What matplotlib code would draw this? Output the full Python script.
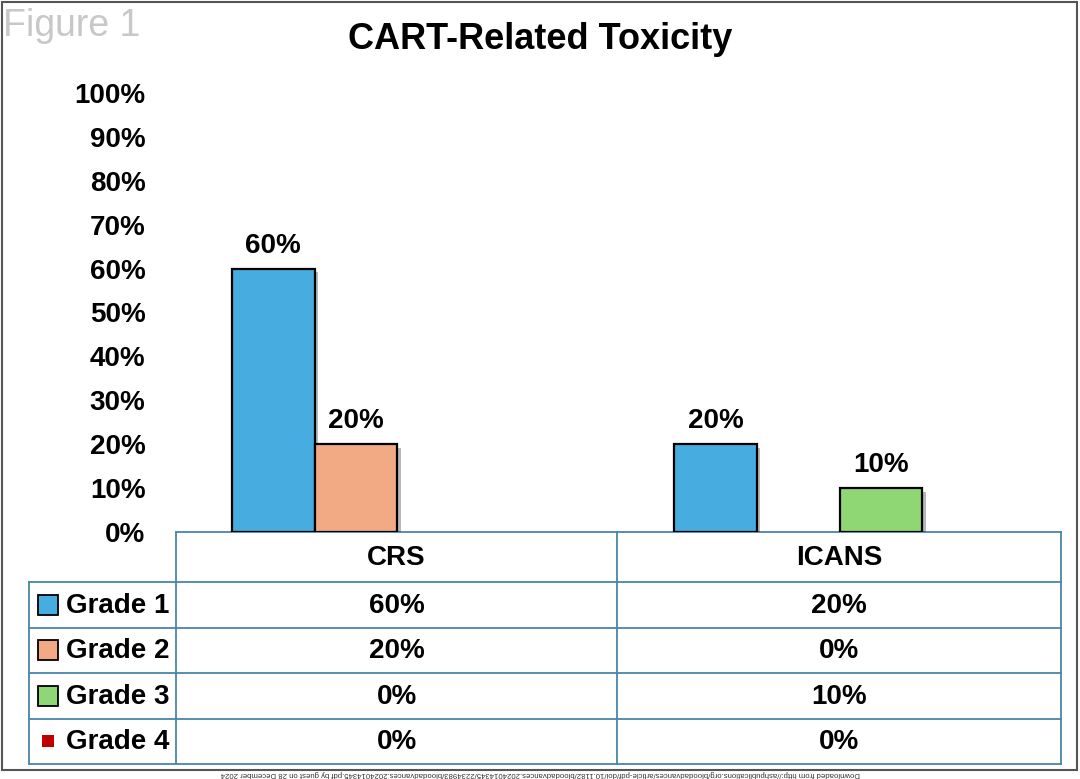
"""CART-related toxicity: grouped bars with a data table underneath."""

import matplotlib

matplotlib.use("Agg")
import matplotlib.patheffects as pe
import matplotlib.pyplot as plt
from matplotlib.patches import Rectangle

categories = ["CRS", "ICANS"]
grade_names = ["Grade 1", "Grade 2", "Grade 3", "Grade 4"]
grade1 = [0.60, 0.20]
grade2 = [0.20, 0.00]
grade3 = [0.00, 0.10]
grade4 = [0.00, 0.00]
series = [grade1, grade2, grade3, grade4]
colors = ["#47ACE0", "#F2AA84", "#8ED774", "#C00000"]
ytick_values = [0.0, 0.1, 0.2, 0.3, 0.4, 0.5, 0.6, 0.7, 0.8, 0.9, 1.0]

W, H = 1080, 779
FONT = "Liberation Sans"
LINE = "#4A86A6"
plt.rcParams["font.family"] = [FONT, "DejaVu Sans"]


def pct(v):
    return f"{round(v * 100)}%"


fig = plt.figure(figsize=(W / 100, H / 100), dpi=100)
fig.patch.set_facecolor("white")

# overlay in pixel coordinates for frame, title and table
ov = fig.add_axes([0, 0, 1, 1])
ov.set_xlim(0, W)
ov.set_ylim(H, 0)
ov.axis("off")

# bar chart axes: x from 176 to 1061 px, y from 93 (100%) to 532 (0%)
ax = fig.add_axes([176 / W, 1 - 532 / H, (1061 - 176) / W, (532 - 93) / H])
ax.set_xlim(-0.5, len(categories) - 0.5)
ax.set_ylim(0, 1)
ax.patch.set_alpha(0)
for s in ax.spines.values():
    s.set_visible(False)
ax.set_xticks([])
ax.set_yticks(ytick_values)
ax.set_yticklabels([pct(v) for v in ytick_values], fontsize=20, fontweight="bold")
ax.tick_params(axis="y", length=0, pad=22)

bar_w = 0.187
shadow = [pe.SimplePatchShadow(offset=(2.5, -2.5), shadow_rgbFace="black", alpha=0.28), pe.Normal()]
for i, (vals, col) in enumerate(zip(series, colors)):
    offset = (i - 1.5) * bar_w
    for j, v in enumerate(vals):
        if v <= 0:
            continue
        bar = ax.bar(j + offset, v, width=bar_w, color=col, edgecolor="black", linewidth=1.6, zorder=3)
        bar[0].set_path_effects(shadow)
        ax.annotate(pct(v), (j + offset, v), xytext=(0, 11.5), textcoords="offset points",
                    ha="center", va="baseline", fontsize=20, fontweight="bold")

# frame, title and figure label
ov.add_patch(Rectangle((2, 2), 1075, 768, fill=False, edgecolor="#555555", linewidth=1.5))
ov.text(3, 26, "Figure 1", fontsize=27, color="#C8C8C8", ha="left", va="center")
ov.text(540, 39, "CART-Related Toxicity", fontsize=26, fontweight="bold", ha="center", va="center")
ov.text(540, 773, "Downloaded from http://ashpublications.org/bloodadvances/article-pdf/doi/10.1182/"
        "bloodadvances.2024014345/2234983/bloodadvances.2024014345.pdf by guest on 28 December 2024",
        fontsize=5.6, color="#333333", ha="center", va="center", rotation=180)

# table
x_left, x_lab, x_mid, x_right = 29, 176, 617, 1061
y_top, y_head = 532, 582
row_h = (764 - y_head) / len(grade_names)
col_centers = [(x_lab + x_mid) / 2, (x_mid + x_right) / 2]
lw = 1.3
ov.plot([x_lab, x_right], [y_top, y_top], color=LINE, lw=lw)
for k in range(len(grade_names) + 1):
    y = y_head + k * row_h
    ov.plot([x_left, x_right], [y, y], color=LINE, lw=lw)
for x in (x_lab, x_mid, x_right):
    ov.plot([x, x], [y_top, 764], color=LINE, lw=lw)
ov.plot([x_left, x_left], [y_head, 764], color=LINE, lw=lw)

for c, cx in zip(categories, col_centers):
    ov.text(cx, (y_top + y_head) / 2 + 1, c, fontsize=20, fontweight="bold", ha="center", va="center")

for k, (name, vals, col) in enumerate(zip(grade_names, series, colors)):
    yc = y_head + (k + 0.5) * row_h
    if k == 3:
        ov.add_patch(Rectangle((42, yc - 6), 12, 12, facecolor=col, edgecolor="none"))
    else:
        ov.add_patch(Rectangle((38, yc - 10), 20, 20, facecolor=col, edgecolor="black", linewidth=1.3))
    ov.text(66, yc + 1, name, fontsize=20, fontweight="bold", ha="left", va="center")
    for v, cx in zip(vals, col_centers):
        ov.text(cx, yc + 1, pct(v), fontsize=20, fontweight="bold", ha="center", va="center")

fig.savefig("out.png", dpi=100)
